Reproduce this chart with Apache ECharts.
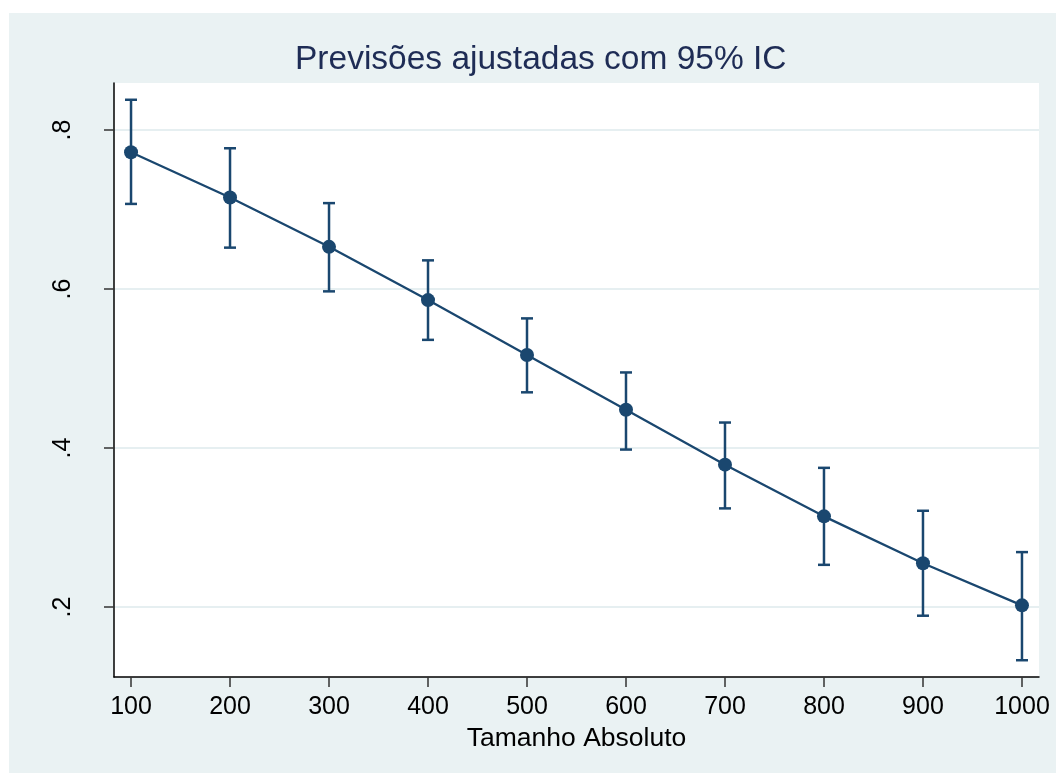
<!DOCTYPE html>
<html>
<head>
<meta charset="utf-8">
<script src="https://cdn.jsdelivr.net/npm/echarts@6/dist/echarts.min.js"></script>
<style>
  html, body { margin: 0; padding: 0; background: #fff; }
  #chart { position: absolute; left: 9px; top: 13px; width: 1047px; height: 760px; }
</style>
</head>
<body>
<div id="chart"></div>
<script>
// tamanho absoluto (eixo x)
const xValues = [100, 200, 300, 400, 500, 600, 700, 800, 900, 1000];
// previsão ajustada
const yFit = [0.772, 0.715, 0.653, 0.586, 0.517, 0.448, 0.379, 0.314, 0.255, 0.202];
// limites do IC 95%
const yLow = [0.707, 0.652, 0.597, 0.536, 0.470, 0.398, 0.324, 0.253, 0.189, 0.133];
const yHigh = [0.838, 0.777, 0.708, 0.636, 0.563, 0.495, 0.432, 0.375, 0.321, 0.269];
// ticks
const xTicks = [100, 200, 300, 400, 500, 600, 700, 800, 900, 1000];
const yTicks = [0.2, 0.4, 0.6, 0.8];

const navy = '#1a476f';
const font = 'Liberation Sans, Arial, sans-serif';

const chart = echarts.init(document.getElementById('chart'));

chart.setOption({
  backgroundColor: '#eaf2f3',
  animation: false,
  title: {
    text: 'Previsões ajustadas com 95% IC',
    left: 281,
    top: 25,
    textStyle: { fontFamily: font, fontSize: 33.5, fontWeight: 'normal', color: '#1e2c55' },
  },
  grid: {
    left: 105,
    right: 17,
    top: 70,
    bottom: 96,
    show: true,
    backgroundColor: '#fff',
    borderWidth: 0,
  },
  xAxis: {
    type: 'value',
    min: 82.8,
    max: 1017.2,
    name: 'Tamanho Absoluto',
    nameLocation: 'middle',
    nameGap: 43,
    nameTextStyle: { fontFamily: font, fontSize: 26.5, color: '#000' },
    axisLine: { show: true, onZero: false, lineStyle: { color: '#000', width: 1.5 } },
    axisTick: { show: true, length: 10, customValues: xTicks, lineStyle: { color: '#333', width: 1.5 } },
    axisLabel: {
      customValues: xTicks,
      margin: 18,
      fontFamily: font,
      fontSize: 25,
      color: '#000',
      formatter: (v) => String(v),
    },
    splitLine: { show: false },
  },
  yAxis: {
    type: 'value',
    min: 0.1119,
    max: 0.8591,
    axisLine: { show: true, onZero: false, lineStyle: { color: '#000', width: 1.5 } },
    axisTick: { show: true, length: 10, customValues: yTicks, lineStyle: { color: '#333', width: 1.5 } },
    axisLabel: {
      customValues: yTicks,
      rotate: 90,
      margin: 38,
      fontFamily: font,
      fontSize: 25,
      color: '#000',
      formatter: (v) => String(v).replace(/^0/, ''),
    },
    splitLine: { show: true, lineStyle: { color: '#e6eff1', width: 2 } },
  },
  series: [
    {
      name: 'IC',
      type: 'custom',
      data: xValues.map((x, i) => [x, yLow[i], yHigh[i]]),
      renderItem: (params, api) => {
        const lo = api.coord([api.value(0), api.value(1)]);
        const hi = api.coord([api.value(0), api.value(2)]);
        const w = 6;
        const style = { stroke: navy, lineWidth: 2.5 };
        return {
          type: 'group',
          children: [
            { type: 'line', shape: { x1: lo[0], y1: lo[1], x2: hi[0], y2: hi[1] }, style },
            { type: 'line', shape: { x1: hi[0] - w, y1: hi[1], x2: hi[0] + w, y2: hi[1] }, style },
            { type: 'line', shape: { x1: lo[0] - w, y1: lo[1], x2: lo[0] + w, y2: lo[1] }, style },
          ],
        };
      },
      z: 2,
    },
    {
      name: 'Previsão',
      type: 'line',
      data: xValues.map((x, i) => [x, yFit[i]]),
      symbol: 'circle',
      symbolSize: 14,
      itemStyle: { color: navy },
      lineStyle: { color: navy, width: 2.3 },
      z: 3,
    },
  ],
});
</script>
</body>
</html>
